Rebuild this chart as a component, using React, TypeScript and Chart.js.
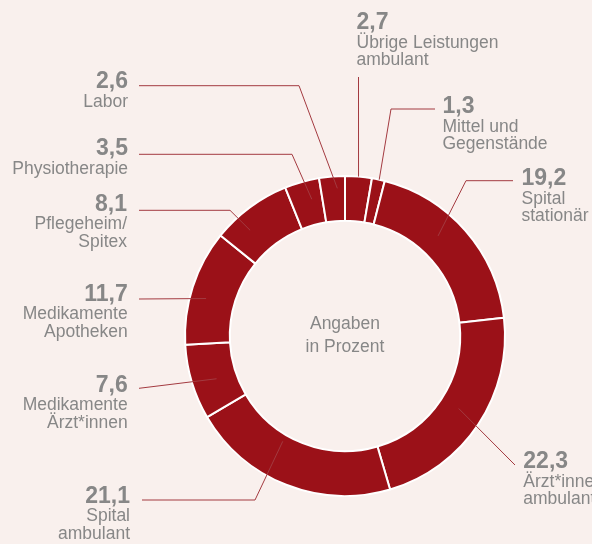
import React, { useEffect, useRef } from "react";
import { Chart, registerables } from "chart.js";

Chart.register(...registerables);

// ---- data ----
const categories: string[][] = [
  ["Übrige Leistungen", "ambulant"],
  ["Mittel und", "Gegenstände"],
  ["Spital", "stationär"],
  ["Ärzt*innen", "ambulant"],
  ["Spital", "ambulant"],
  ["Medikamente", "Ärzt*innen"],
  ["Medikamente", "Apotheken"],
  ["Pflegeheim/", "Spitex"],
  ["Physiotherapie"],
  ["Labor"],
];
const shares: number[] = [2.7, 1.3, 19.2, 22.3, 21.1, 7.6, 11.7, 8.1, 3.5, 2.6];
const centerText: string[] = ["Angaben", "in Prozent"];

// ---- styles / layout ----
const BG = "#f9f0ed";
const RED = "#9b1118";
const TEXT = "#878787";
const LINE = "#a33a40";
const FONT = '"Liberation Sans", Arial, sans-serif';

type Lay = {
  align: "left" | "right";
  x: number;
  vy: number;
  end: [number, number];
  elbow: [number, number] | null;
  dA: number; // angle offset (deg) of the anchor from the mid angle
  rf: number; // radial position of the anchor (0 inner, 1 outer)
};

const layout: Lay[] = [
  { align: "left", x: 356.5, vy: 29, end: [358.5, 77], elbow: null, dA: 0, rf: 1 },
  { align: "left", x: 442.5, vy: 113.3, end: [435, 109], elbow: [391, 109], dA: 0.3, rf: 1 },
  { align: "left", x: 521.5, vy: 185, end: [513, 180.7], elbow: [466, 180.7], dA: -6, rf: 0.48 },
  { align: "left", x: 523.3, vy: 468.3, end: [515, 465], elbow: null, dA: -1, rf: 0.44 },
  { align: "right", x: 130, vy: 502.7, end: [142, 500], elbow: [255, 500], dA: 9, rf: 0.16 },
  { align: "right", x: 127.7, vy: 391.7, end: [139, 388.3], elbow: null, dA: -1.6, rf: 0.45 },
  { align: "right", x: 127.7, vy: 300.7, end: [139, 299], elbow: null, dA: -2.8, rf: 0.64 },
  { align: "right", x: 127, vy: 210.7, end: [139, 210.3], elbow: [230, 210.3], dA: -5.4, rf: 0.6 },
  { align: "right", x: 128, vy: 155, end: [139, 154.3], elbow: [292, 154.3], dA: 2, rf: 0.57 },
  { align: "right", x: 128, vy: 88.3, end: [139, 85.7], elbow: [299, 85.7], dA: 1.7, rf: 0.73 },
];

const fmt = (v: number) => v.toFixed(1).replace(".", ",");

const labelPlugin = {
  id: "labelPlugin",
  afterDraw(chart: any) {
    const ctx = chart.ctx as CanvasRenderingContext2D;
    const meta = chart.getDatasetMeta(0);
    ctx.save();
    // leader lines
    meta.data.forEach((arc: any, i: number) => {
      const L = layout[i];
      if (!L) return;
      const p = arc.getProps(["x", "y", "startAngle", "endAngle", "innerRadius", "outerRadius"], true);
      const a = (p.startAngle + p.endAngle) / 2 + (L.dA * Math.PI) / 180;
      const r = p.innerRadius + L.rf * (p.outerRadius - p.innerRadius);
      const ax = p.x + r * Math.cos(a);
      const ay = p.y + r * Math.sin(a);
      ctx.beginPath();
      ctx.moveTo(L.end[0], L.end[1]);
      if (L.elbow) ctx.lineTo(L.elbow[0], L.elbow[1]);
      ctx.lineTo(ax, ay);
      ctx.strokeStyle = LINE;
      ctx.lineWidth = 1;
      ctx.stroke();
    });
    // texts
    ctx.fillStyle = TEXT;
    ctx.textBaseline = "alphabetic";
    shares.forEach((v, i) => {
      const L = layout[i];
      ctx.textAlign = L.align;
      ctx.font = `bold 23px ${FONT}`;
      ctx.fillText(fmt(v), L.x, L.vy);
      ctx.font = `17.5px ${FONT}`;
      let y = L.vy + 18.5;
      categories[i].forEach((line) => {
        ctx.fillText(line, L.x, y);
        y += 17.5;
      });
    });
    // center
    const c = meta.data[0];
    if (c) {
      ctx.textAlign = "center";
      ctx.font = `17.5px ${FONT}`;
      ctx.fillText(centerText[0], c.x, c.y - 7.5);
      ctx.fillText(centerText[1], c.x, c.y + 16);
    }
    ctx.restore();
  },
};

export default function App() {
  const ref = useRef<HTMLCanvasElement | null>(null);
  useEffect(() => {
    if (!ref.current) return;
    const chart = new Chart(ref.current, {
      type: "doughnut",
      data: {
        labels: categories.map((c) => c.join(" ")),
        datasets: [
          {
            data: shares,
            backgroundColor: RED,
            borderColor: "#ffffff",
            borderWidth: 2,
          },
        ],
      },
      options: {
        animation: false,
        responsive: false,
        cutout: "72%",
        layout: { padding: { left: 184, right: 86, top: 175, bottom: 47 } },
        plugins: {
          legend: { display: false },
          tooltip: { enabled: false },
        },
      },
      plugins: [labelPlugin],
    });
    return () => chart.destroy();
  }, []);
  return (
    <div
      style={{
        position: "fixed",
        left: 0,
        top: 0,
        width: 592,
        height: 544,
        background: BG,
      }}
    >
      <canvas ref={ref} width={592} height={544} style={{ display: "block" }} />
    </div>
  );
}
